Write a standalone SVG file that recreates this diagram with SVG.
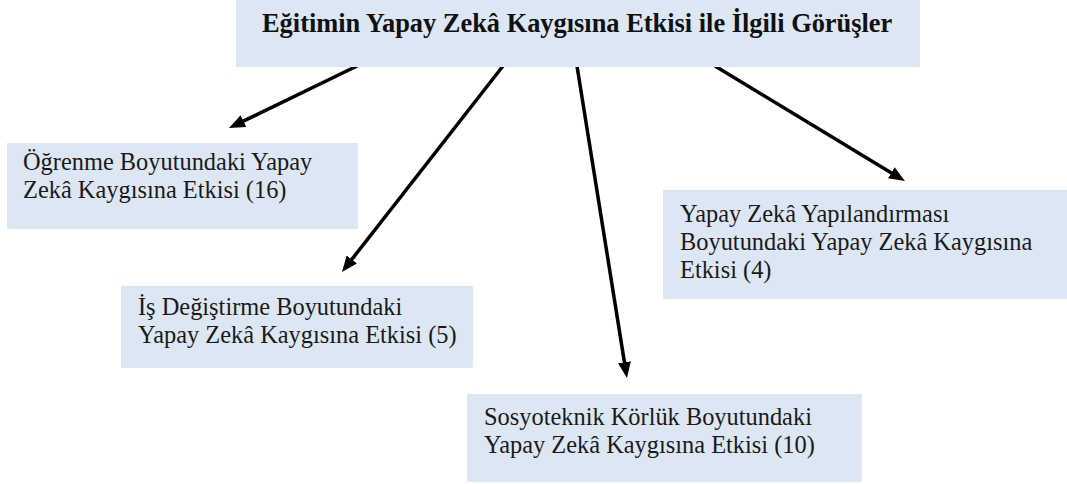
<svg xmlns="http://www.w3.org/2000/svg" width="1067" height="484" viewBox="0 0 1067 484">
  <style>
    .box { fill: #dce7f3; }
    .title { font-family: "Liberation Serif", "Times New Roman", serif; font-size: 26.4px; font-weight: bold; fill: #111; }
    .label { font-family: "Liberation Serif", "Times New Roman", serif; font-size: 24.4px; fill: #1a1a1a; }
    .link { stroke: #000; stroke-width: 3.5; fill: none; marker-end: url(#head); }
  </style>
  <defs>
    <marker id="head" markerUnits="userSpaceOnUse" markerWidth="16" markerHeight="13" refX="8" refY="6.5" orient="auto">
      <path d="M0,0 L16,6.5 L0,13 z" fill="#000"/>
    </marker>
  </defs>

  <rect width="1067" height="484" fill="#fff"/>

  <!-- connectors from the heading to each dimension -->
  <g id="connectors">
    <line class="link" x1="357" y1="66" x2="236.2" y2="124.6"/>
    <line class="link" x1="503" y1="66" x2="346.9" y2="265.7"/>
    <line class="link" x1="577" y1="66" x2="625.7" y2="370.1"/>
    <line class="link" x1="715" y1="66" x2="898.1" y2="176.9"/>
  </g>

  <g id="heading">
    <rect class="box" x="236" y="0" width="684" height="67"/>
    <text class="title" x="262" y="32">Eğitimin Yapay Zekâ Kaygısına Etkisi ile İlgili Görüşler</text>
  </g>

  <g id="ogrenme">
    <rect class="box" x="7" y="143" width="351" height="86"/>
    <text class="label" x="23" y="170">Öğrenme Boyutundaki Yapay</text>
    <text class="label" x="23" y="198">Zekâ Kaygısına Etkisi (16)</text>
  </g>

  <g id="is-degistirme">
    <rect class="box" x="121" y="286" width="352" height="82"/>
    <text class="label" x="138" y="315">İş Değiştirme Boyutundaki</text>
    <text class="label" x="138" y="343">Yapay Zekâ Kaygısına Etkisi (5)</text>
  </g>

  <g id="sosyoteknik">
    <rect class="box" x="467" y="394" width="395" height="88"/>
    <text class="label" x="484" y="425">Sosyoteknik Körlük Boyutundaki</text>
    <text class="label" x="484" y="453">Yapay Zekâ Kaygısına Etkisi (10)</text>
  </g>

  <g id="yapilandirma">
    <rect class="box" x="663" y="190" width="404" height="109"/>
    <text class="label" x="680" y="222">Yapay Zekâ Yapılandırması</text>
    <text class="label" x="680" y="250">Boyutundaki Yapay Zekâ Kaygısına</text>
    <text class="label" x="680" y="278">Etkisi (4)</text>
  </g>
</svg>
